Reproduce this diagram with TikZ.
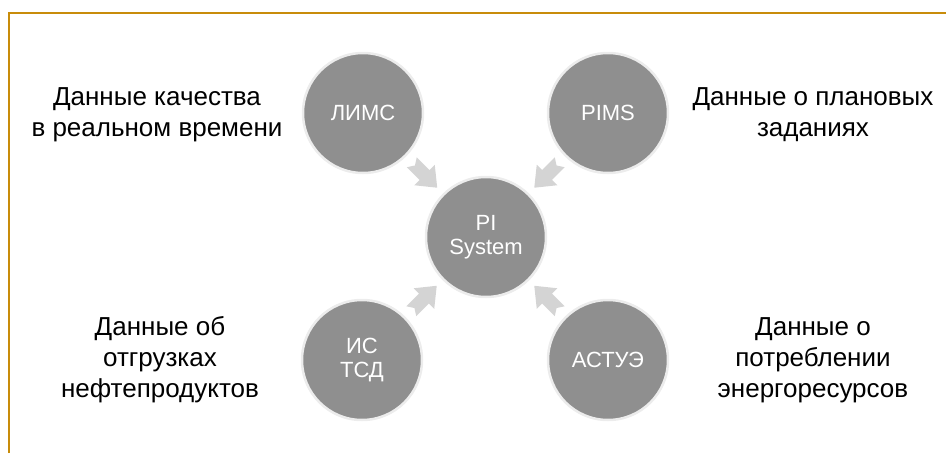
\documentclass[tikz,border=0pt]{standalone}
\usepackage{fontspec}
\setmainfont{Liberation Sans}
\usetikzlibrary{calc}
\definecolor{framecol}{RGB}{200,140,10}
\definecolor{disc}{RGB}{143,143,143}
\definecolor{halo}{RGB}{236,236,236}
\definecolor{arrowfill}{RGB}{212,212,212}
\tikzset{
  hub/.style={circle, fill=disc, draw=halo, line width=2.5pt, minimum size=120pt,
    inner sep=0pt, text=white, font=\fontsize{22}{24}\selectfont, align=center},
  infotext/.style={text=black, font=\fontsize{26}{31}\selectfont, align=center, inner sep=0pt},
  framestyle/.style={draw=framecol, line width=2pt},
  blockarrowfill/.style={fill=arrowfill}
}
\newcommand{\myblockarrow}[3]{%
  \path ($(#1)!0.5!(#2)$) coordinate (#1-#2-mid);
  \begin{scope}[shift={(#1-#2-mid)}, rotate=#3]
    \path[blockarrowfill] (-18,-7) -- (0,-7) -- (0,-14.5) -- (18,0) -- (0,14.5) -- (0,7) -- (-18,7) -- (-13.5,0) -- cycle;
  \end{scope}
}
\begin{document}
\begin{tikzpicture}[x=1pt, y=-1pt]
  \useasboundingbox (0,0) rectangle (946,453);
  \draw[framestyle] (9,453) -- (9,13) -- (946,13);

  \node[hub] (pi) at (486,237) {PI\\System};
  \node[hub] (lims) at (363,113) {ЛИМС};
  \node[hub] (pims) at (608,113) {PIMS};
  \node[hub] (istsd) at (362,360) {ИС\\ТСД};
  \node[hub] (astue) at (608,360) {АСТУЭ};

  \myblockarrow{lims}{pi}{-45}
  \myblockarrow{pims}{pi}{-135}
  \myblockarrow{istsd}{pi}{45}
  \myblockarrow{astue}{pi}{135}

  \node[infotext] (t1) at (157,115) {Данные качества\\в реальном времени};
  \node[infotext] (t2) at (813,115) {Данные о плановых\\заданиях};
  \node[infotext] (t3) at (160,360) {Данные об\\отгрузках\\нефтепродуктов};
  \node[infotext] (t4) at (813,360) {Данные о\\потреблении\\энергоресурсов};
\end{tikzpicture}
\end{document}
